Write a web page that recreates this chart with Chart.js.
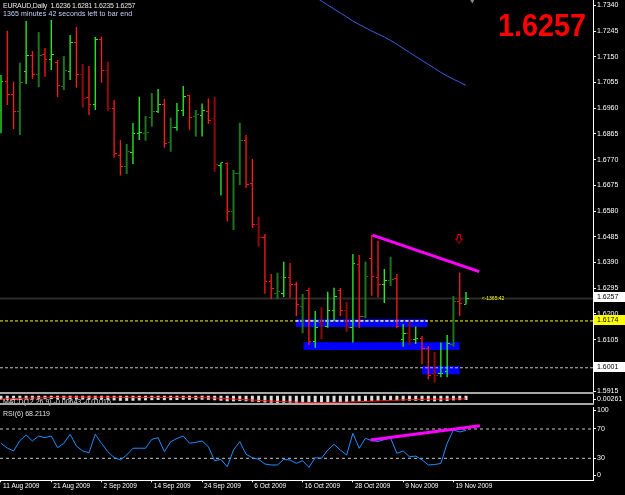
<!DOCTYPE html>
<html><head><meta charset="utf-8">
<script src="https://cdn.jsdelivr.net/npm/chart.js@4.4.0/dist/chart.umd.min.js"></script>
<style>
html,body{margin:0;padding:0;background:#000;}
#wrap{position:relative;width:625px;height:495px;overflow:hidden;background:#000;font-family:"Liberation Sans",Arial,sans-serif;}
canvas{position:absolute;left:0;display:block;}
.txt{position:absolute;white-space:nowrap;font-size:7px;line-height:8px;}
.sep{position:absolute;left:0;width:594px;height:2px;background:#a8a8a8;}
#big{position:absolute;left:498px;top:9px;font:bold 32px "Liberation Sans",Arial,sans-serif;line-height:32px;color:#ff0000;transform:scaleX(0.9);transform-origin:left top;white-space:nowrap;}
</style></head><body>
<div id="wrap">
<canvas id="price" width="625" height="393" style="top:0"></canvas>
<canvas id="macd" width="625" height="10" style="top:394px"></canvas>
<canvas id="rsi" width="625" height="90" style="top:405px"></canvas>
<div class="txt" style="left:3px;top:398px;color:#e0e0e0">MACD(12,26,9) -0.00643 -0.01016</div>
<div class="sep" style="top:392px"></div>
<div class="sep" style="top:403px"></div>
<div class="txt" style="left:3px;top:2px;color:#e8e8e8;letter-spacing:-0.25px">EURAUD,Daily&nbsp; 1.6236 1.6281 1.6235 1.6257</div>
<div class="txt" style="left:3px;top:10px;color:#c8d4ff;letter-spacing:0.12px">1365 minutes 42 seconds left to bar end</div>
<div id="big">1.6257</div>
<div class="txt" style="left:3px;top:410px;color:#e0e0e0">RSI(6) 68.2119</div>
</div>
<script>
// ---------------- data ----------------
const dateLabels = ['11 Aug 2009','21 Aug 2009','2 Sep 2009','14 Sep 2009','24 Sep 2009','6 Oct 2009','16 Oct 2009','28 Oct 2009','9 Nov 2009','19 Nov 2009'];
const dateTickBars = [0,8,16,24,32,40,48,56,64,72];
const priceTicks = [1.7340,1.7245,1.7150,1.7055,1.6960,1.6865,1.6770,1.6675,1.6580,1.6485,1.6390,1.6295,1.6200,1.6105,1.6010,1.5915];

const open = [1.6953,1.7058,1.7009,1.6947,1.7095,1.7153,1.7086,1.7160,1.7138,1.7128,
  1.7039,1.7097,1.7201,1.7083,1.6998,1.6975,1.7212,1.7101,1.6958,1.6787,
  1.6744,1.6795,1.6868,1.6866,1.6924,1.6947,1.6972,1.6832,1.6887,1.6953,
  1.7005,1.6928,1.6933,1.6947,1.6920,1.6750,1.6754,1.6580,1.6717,1.6840,
  1.6680,1.6532,1.6484,1.6318,1.6274,1.6277,1.6335,1.6309,1.6229,1.6285,
  1.6097,1.6170,1.6155,1.6214,1.6285,1.6211,1.6148,1.6381,1.6190,1.6405,
  1.6335,1.6309,1.6324,1.6332,1.6106,1.6128,1.6106,1.6110,1.6073,1.5978,
  1.5978,1.5986,1.6088,1.6245,1.6236];
const high = [1.7083,1.7246,1.7058,1.7128,1.7282,1.7171,1.7241,1.7182,1.7286,1.7138,
  1.7153,1.7230,1.7260,1.7123,1.7116,1.7223,1.7224,1.7132,1.6990,1.6842,
  1.6828,1.6905,1.7002,1.6931,1.7016,1.7031,1.6994,1.6925,1.6979,1.7042,
  1.7009,1.6953,1.6977,1.6996,1.7002,1.6759,1.6759,1.6732,1.6906,1.6861,
  1.6772,1.6559,1.6495,1.6347,1.6352,1.6393,1.6388,1.6319,1.6274,1.6297,
  1.6211,1.6225,1.6282,1.6297,1.6296,1.6244,1.6421,1.6418,1.6393,1.6491,
  1.6470,1.6366,1.6411,1.6347,1.6163,1.6171,1.6153,1.6118,1.6081,1.6060,
  1.6094,1.6122,1.6266,1.6352,1.6281];
const low = [1.6867,1.6972,1.6883,1.6861,1.7049,1.7068,1.7038,1.7076,1.7101,1.7001,
  1.7027,1.7064,1.7036,1.6962,1.6935,1.6953,1.7054,1.6951,1.6777,1.6711,
  1.6717,1.6754,1.6842,1.6840,1.6892,1.6942,1.6814,1.6799,1.6877,1.6931,
  1.6879,1.6855,1.6855,1.6902,1.6725,1.6637,1.6541,1.6510,1.6676,1.6665,
  1.6517,1.6448,1.6274,1.6255,1.6255,1.6262,1.6260,1.6192,1.6129,1.6085,
  1.6075,1.6107,1.6149,1.6174,1.6192,1.6134,1.6094,1.6148,1.6184,1.6267,
  1.6261,1.6240,1.6303,1.6147,1.6079,1.6085,1.6089,1.6015,1.5958,1.5946,
  1.5966,1.5966,1.6079,1.6192,1.6235];
const close = [1.7060,1.7009,1.6947,1.7054,1.7156,1.7085,1.7156,1.7138,1.7160,1.7042,
  1.7098,1.7201,1.7083,1.6994,1.6975,1.7212,1.7098,1.6957,1.6791,1.6744,
  1.6799,1.6868,1.6869,1.6870,1.6947,1.6972,1.6831,1.6887,1.6950,1.7002,
  1.6927,1.6935,1.6950,1.6913,1.6753,1.6759,1.6578,1.6717,1.6840,1.6679,
  1.6532,1.6484,1.6318,1.6292,1.6281,1.6335,1.6310,1.6233,1.6256,1.6097,
  1.6149,1.6159,1.6214,1.6266,1.6214,1.6151,1.6387,1.6192,1.6340,1.6337,
  1.6307,1.6325,1.6327,1.6153,1.6128,1.6106,1.6110,1.6073,1.5971,1.5974,
  1.5981,1.6089,1.6245,1.6240,1.6257];
// bar colouring as drawn: g bright up, G dark up, r bright down, R dark down
const barTone = ('grrGgrGrgr'+'GgrRrgrRrr'+'GggGGgrGgg'+'rGgrRgrGGr'+'rRrrGgrrGr'+
                 'gRggrRgrGr'+'rgGrgRgrrR'+'ggGrg').split('');

const maFrom = 50;
const maValues = [1.7371,1.7356,1.7341,1.7326,1.7312,1.7297,1.7282,1.7269,1.7257,1.7245,
  1.7234,1.7223,1.7210,1.7196,1.7181,1.7166,1.7151,1.7136,1.7122,1.7107,
  1.7092,1.7079,1.7067,1.7056,1.7044];

const rsi6 = [50.5,44,40,54,61.8,53.6,60.4,58.1,60.4,44.5,
  50.5,62.8,46.8,40,37.6,62.8,50.5,39,31,27.7,
  34.5,43.7,43.8,43.7,55.9,58.1,39,52.7,57,60.4,
  50.5,51.8,53.6,45.8,26.7,28.6,18.5,41.3,52.7,35.5,
  30.8,28.6,22.2,20.9,20.9,28.6,27.7,23.2,26.7,17.7,
  30.8,30,41.3,49.1,41.3,34.5,64.1,43.7,57.3,54,
  53,55.5,57.5,36.8,40,32.2,33,28,20.9,21.5,
  23,50.5,68.6,66,68.2];

const macdMain = [-0.0058,-0.0062,-0.0066,-0.0060,-0.0056,-0.0055,-0.0052,-0.0052,-0.0050,-0.0055,
  -0.0056,-0.0052,-0.0054,-0.0058,-0.0061,-0.0056,-0.0057,-0.0062,-0.0070,-0.0076,
  -0.0077,-0.0075,-0.0071,-0.0069,-0.0066,-0.0063,-0.0066,-0.0066,-0.0064,-0.0060,
  -0.0061,-0.0061,-0.0060,-0.0061,-0.0068,-0.0075,-0.0083,-0.0084,-0.0080,-0.0083,
  -0.0089,-0.0095,-0.0102,-0.0106,-0.0108,-0.0107,-0.0107,-0.0109,-0.0108,-0.0112,
  -0.0111,-0.0109,-0.0105,-0.0099,-0.0097,-0.0097,-0.0088,-0.0087,-0.0082,-0.0078,
  -0.0076,-0.0072,-0.0068,-0.0071,-0.0073,-0.0075,-0.0076,-0.0078,-0.0083,-0.0085,
  -0.0085,-0.0079,-0.0070,-0.0066,-0.0064];
const macdSignal = [-0.0048,-0.0046,-0.0043,-0.0040,-0.0037,-0.0034,-0.0031,-0.0029,-0.0027,-0.0025,
  -0.0023,-0.0022,-0.0021,-0.0021,-0.0021,-0.0021,-0.0021,-0.0022,-0.0023,-0.0024,
  -0.0025,-0.0026,-0.0026,-0.0026,-0.0026,-0.0026,-0.0026,-0.0026,-0.0026,-0.0026,
  -0.0026,-0.0027,-0.0029,-0.0031,-0.0035,-0.0040,-0.0045,-0.0050,-0.0055,-0.0060,
  -0.0065,-0.0070,-0.0075,-0.0080,-0.0085,-0.0089,-0.0093,-0.0096,-0.0099,-0.0101,
  -0.0102,-0.0102,-0.0101,-0.0100,-0.0098,-0.0096,-0.0093,-0.0090,-0.0086,-0.0082,
  -0.0078,-0.0074,-0.0070,-0.0066,-0.0062,-0.0059,-0.0056,-0.0054,-0.0052,-0.0051,
  -0.0050,-0.0049,-0.0049,-0.0048,-0.0048];
const macdTicks = [0.00261];

const bidPrice = 1.6257;
const yellowLevel = 1.6174;
const grayLevel = 1.6001;
const zoneFrom = [46.9, 48.1, 67.0];
const zoneTo   = [67.9, 73.0, 73.0];
const zoneHigh = [1.6180, 1.6095, 1.6008];
const zoneLow  = [1.6152, 1.6067, 1.5977];
const trendBars = [59.1, 76.1];
const trendPrices = [1.6491, 1.6356];
const rsiTrendBars = [58.8, 76.2];
const rsiTrendValues = [55, 74.5];
const rsiLevels = [70, 30];
const rsiTicks = [100, 70, 30, 0];
const arrowBar = 72.9, arrowPrice = 1.6475;
const shiftBar = 75;
const timerBar = 76.5, timerPrice = 1.6255, timerText = '<-1365:42';

// ---------------- setup ----------------
const X_MIN = -0.159, X_MAX = 94.21;
const P_MIN = 1.59078, P_MAX = 1.73596;
Chart.defaults.font.family = '"Liberation Sans", Arial, sans-serif';
Chart.defaults.font.size = 7;
Chart.defaults.color = '#ffffff';

const toneColor = {g:'#2cf52c', G:'#1f741f', r:'#ff1a1a', R:'#900a0a'};
const isThick = t => t === 'G' || t === 'R';
function tickImage(color, w, side){
  const c = document.createElement('canvas'); c.width = w; c.height = 1;
  const g = c.getContext('2d'); g.fillStyle = color;
  g.fillRect(side === 'open' ? 0 : w - 2, 0, 2, 1); return c;
}
function arrowImage(){
  const c = document.createElement('canvas'); c.width = 8; c.height = 10;
  const g = c.getContext('2d'); g.strokeStyle = '#e00000'; g.lineWidth = 1;
  g.beginPath(); g.moveTo(2.5,0.5); g.lineTo(5.5,0.5); g.lineTo(5.5,4.5); g.lineTo(7.5,4.5);
  g.lineTo(4,9); g.lineTo(0.5,4.5); g.lineTo(2.5,4.5); g.closePath(); g.stroke(); return c;
}
function clampTicks(topInset, bottomInset){
  return s => {
    const base = Object.getPrototypeOf(s).getPixelForTick;
    s.getPixelForTick = function(i){
      const p = base.call(this, i);
      return Math.min(Math.max(p, this.top + topInset), this.bottom - bottomInset);
    };
  };
}
function rightAxis(extra){
  return Object.assign({
    position:'right',
    afterFit: s => { s.width = 32; s.paddingTop = 0; s.paddingBottom = 0; },
    ticks:{color:'#ffffff', padding:1, autoSkip:false, font:{size:7}},
    grid:{drawOnChartArea:false, drawTicks:true, tickLength:3, color:'#ffffff'},
    border:{display:true, color:'#ffffff', width:1}
  }, extra);
}
const hiddenX = {type:'linear', min:X_MIN, max:X_MAX, display:false, offset:false, grid:{offset:false}};
const commonOpts = {responsive:false, animation:false, events:[], plugins:{legend:{display:false}, tooltip:{enabled:false}}};

// ---------------- price chart ----------------
const thinBars=[], thinColors=[], thickBars=[], thickColors=[];
const openPts=[], openStyle=[], closePts=[], closeStyle=[];
barTone.forEach((t,i) => {
  const bar = {x:i, y:[low[i], high[i]]};
  if (isThick(t)) { thickBars.push(bar); thickColors.push(toneColor[t]); }
  else { thinBars.push(bar); thinColors.push(toneColor[t]); }
  const w = isThick(t) ? 6 : 5;
  openPts.push({x:i, y:open[i]}); openStyle.push(tickImage(toneColor[t], w, 'open'));
  closePts.push({x:i, y:close[i]}); closeStyle.push(tickImage(toneColor[t], w, 'close'));
});
const hline = (y, color, width, dash, order) => ({type:'line', data:[{x:X_MIN,y},{x:X_MAX,y}],
  borderColor:color, borderWidth:width, borderDash:dash, pointRadius:0, fill:false, order});

const priceDatasets = [];
zoneFrom.forEach((f,k) => {
  priceDatasets.push({type:'line', data:[{x:f,y:zoneHigh[k]},{x:zoneTo[k],y:zoneHigh[k]}], borderWidth:0, borderColor:'#0000ff', pointRadius:0, fill:false, order:20});
  priceDatasets.push({type:'line', data:[{x:f,y:zoneLow[k]},{x:zoneTo[k],y:zoneLow[k]}], borderWidth:0, borderColor:'#0000ff', pointRadius:0, fill:'-1', backgroundColor:'#0000ff', order:20});
});
priceDatasets.push(hline(bidPrice, '#2c2c2c', 2, [], 15));
priceDatasets.push(hline(yellowLevel, '#ffff00', 1, [3,2], 14));
priceDatasets.push({type:'line', data:[{x:zoneFrom[0],y:yellowLevel},{x:zoneTo[0],y:yellowLevel}], borderColor:'#ffffff', borderWidth:1, borderDash:[3,2], pointRadius:0, fill:false, order:13});
priceDatasets.push(hline(grayLevel, '#c4c4c4', 1, [3,2], 14));
priceDatasets.push({type:'line', data:maValues.map((v,k)=>({x:maFrom+k, y:v})), borderColor:'#3a5ee6', borderWidth:1, pointRadius:0, fill:false, tension:0, order:10});
priceDatasets.push({type:'bar', data:thickBars, backgroundColor:thickColors, barThickness:2, grouped:false, inflateAmount:0, borderWidth:0, order:6});
priceDatasets.push({type:'bar', data:thinBars, backgroundColor:thinColors, barThickness:1.3, grouped:false, inflateAmount:0, borderWidth:0, order:5});
priceDatasets.push({type:'line', showLine:false, data:openPts, pointStyle:openStyle, pointRadius:2, order:4});
priceDatasets.push({type:'line', showLine:false, data:closePts, pointStyle:closeStyle, pointRadius:2, order:4});
priceDatasets.push({type:'line', data:[{x:trendBars[0],y:trendPrices[0]},{x:trendBars[1],y:trendPrices[1]}], borderColor:'#ff00ff', borderWidth:3, pointRadius:0, fill:false, order:1});
priceDatasets.push({type:'line', showLine:false, data:[{x:arrowBar,y:arrowPrice}], pointStyle:arrowImage(), pointRadius:5, order:1});
priceDatasets.push({type:'line', showLine:false, data:[{x:shiftBar,y:P_MAX}], pointStyle:'triangle', rotation:180, pointRadius:3.5, backgroundColor:'#8a8a8a', borderColor:'#8a8a8a', borderWidth:0, order:1});

const tagPlugin = {
  id:'priceTags',
  afterDraw(chart){
    const ctx = chart.ctx, ys = chart.scales.y, xs = chart.scales.x;
    const tags = [{v:bidPrice, bg:'#ffffff'}, {v:yellowLevel, bg:'#ffff00'}, {v:grayLevel, bg:'#ffffff'}];
    ctx.save();
    ctx.font = '7px "Liberation Sans", Arial, sans-serif';
    ctx.textBaseline = 'middle'; ctx.textAlign = 'left';
    tags.forEach(t => {
      const py = Math.round(ys.getPixelForValue(t.v)) - 1;
      ctx.fillStyle = t.bg; ctx.fillRect(ys.left + 1, py - 5, chart.width - ys.left - 1, 10);
      ctx.fillStyle = '#000000'; ctx.fillText(t.v.toFixed(4), ys.left + 4, py);
    });
    ctx.font = '5px "Liberation Sans", Arial, sans-serif';
    ctx.fillStyle = '#ffff00';
    ctx.fillText(timerText, xs.getPixelForValue(timerBar), ys.getPixelForValue(timerPrice));
    ctx.restore();
  }
};

new Chart(document.getElementById('price'), {
  type:'bar',
  data:{datasets:priceDatasets},
  options:Object.assign({}, commonOpts, {
    layout:{padding:0, autoPadding:false},
    scales:{
      x:hiddenX,
      y:rightAxis({type:'linear', min:P_MIN, max:P_MAX,
        afterBuildTicks: s => { s.ticks = priceTicks.map(v => ({value:v})); },
        ticks:{color:'#ffffff', padding:1, autoSkip:false, font:{size:7}, callback: v => Number(v).toFixed(4)}})
    }
  }),
  plugins:[tagPlugin]
});

// ---------------- MACD strip ----------------
new Chart(document.getElementById('macd'), {
  type:'bar',
  data:{datasets:[
    {type:'line', data:macdSignal.map((v,i)=>({x:i,y:v})), borderColor:'#ff1010', borderWidth:1, pointRadius:0, fill:false, order:1},
    {type:'bar', data:macdMain.map((v,i)=>({x:i,y:v})), backgroundColor:'#dcdcdc', barThickness:3, grouped:false, inflateAmount:0, order:2}
  ]},
  options:Object.assign({}, commonOpts, {
    layout:{padding:0, autoPadding:false},
    scales:{
      x:hiddenX,
      y:rightAxis({type:'linear', min:-0.0124, max:0.00261,
        afterBuildTicks: s => { s.ticks = macdTicks.map(v => ({value:v})); },
        afterUpdate: clampTicks(5, 5),
        ticks:{color:'#ffffff', padding:1, autoSkip:false, font:{size:7}, callback: v => Number(v).toFixed(5)}})
    }
  })
});

// ---------------- RSI panel ----------------
const rsiDatasets = [
  {data:[{x:rsiTrendBars[0],y:rsiTrendValues[0]},{x:rsiTrendBars[1],y:rsiTrendValues[1]}], borderColor:'#ff00ff', borderWidth:3, pointRadius:0, fill:false, order:0},
  {data:rsi6.map((v,i)=>({x:i,y:v})), borderColor:'#1e8fff', borderWidth:1, pointRadius:0, fill:false, tension:0, order:1}
];
rsiLevels.forEach(l => rsiDatasets.push({data:[{x:X_MIN,y:l},{x:X_MAX,y:l}], borderColor:'#c8c8c8', borderWidth:1, borderDash:[3,3], pointRadius:0, fill:false, order:5}));

new Chart(document.getElementById('rsi'), {
  type:'line',
  data:{datasets:rsiDatasets},
  options:Object.assign({}, commonOpts, {
    layout:{padding:{top:2, left:0, right:0, bottom:0}, autoPadding:false},
    scales:{
      x:{type:'linear', min:X_MIN, max:X_MAX, offset:false,
        afterBuildTicks: s => { s.ticks = dateTickBars.map(v => ({value:v})); },
        afterFit: s => { s.height = 14.7; s.paddingLeft = 0; s.paddingRight = 0; },
        ticks:{color:'#ffffff', align:'start', labelOffset:2, padding:0, maxRotation:0, minRotation:0, autoSkip:false, font:{size:6.5},
          callback: (v, idx) => dateLabels[idx]},
        grid:{drawOnChartArea:false, drawTicks:true, tickLength:2, color:'#ffffff'},
        border:{display:true, color:'#ffffff', width:1}},
      y:rightAxis({type:'linear', min:0, max:100,
        afterBuildTicks: s => { s.ticks = rsiTicks.map(v => ({value:v})); },
        afterUpdate: clampTicks(3, 5),
        ticks:{color:'#ffffff', padding:1, autoSkip:false, font:{size:7}, callback: v => String(v)}})
    }
  })
});
</script>
</body></html>
